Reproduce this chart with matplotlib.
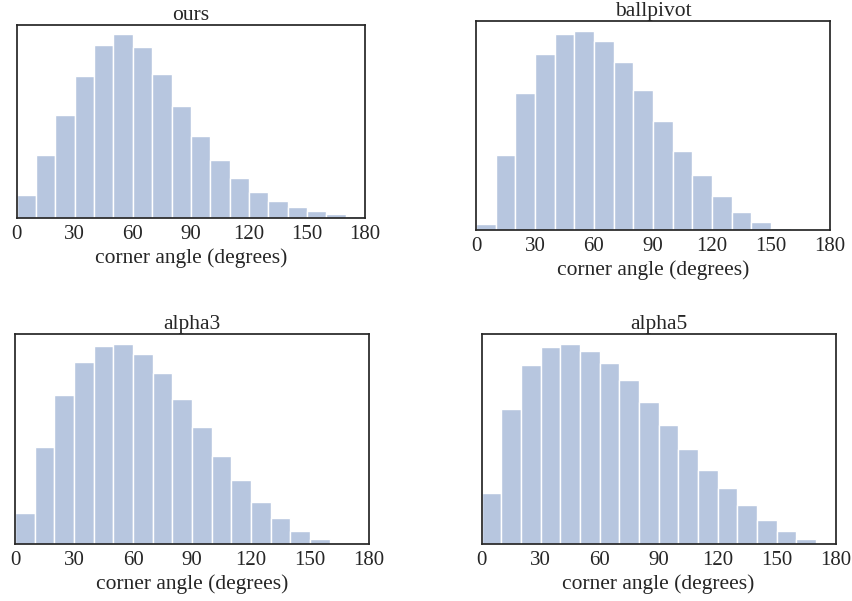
import numpy as np
import matplotlib.pyplot as plt

# bin edges (degrees), 10-degree bins
edges = np.arange(0, 190, 10)

# relative bar heights
ours = [70, 190, 309, 425, 517, 550, 512, 431, 335, 245, 174, 119, 80, 53, 34, 22, 13, 7]
ballpivot = [18, 225, 408, 525, 584, 594, 564, 501, 417, 325, 237, 163, 101, 55, 24, 6, 0, 0]
alpha3 = [95, 290, 445, 544, 591, 597, 567, 511, 435, 350, 265, 191, 127, 78, 41, 17, 4, 1]
alpha5 = [151, 402, 535, 587, 596, 577, 540, 488, 425, 354, 285, 222, 166, 117, 73, 39, 14, 0]

titles = ["ours", "ballpivot", "alpha3", "alpha5"]
series = [ours, ballpivot, alpha3, alpha5]
xticks = [0, 30, 60, 90, 120, 150, 180]

plt.rcParams["font.family"] = ["Liberation Serif", "DejaVu Serif"]
plt.rcParams["font.size"] = 15
plt.rcParams["text.color"] = ".15"
plt.rcParams["xtick.color"] = ".15"

fig = plt.figure(figsize=(8.53, 6.01), dpi=100)
positions = [
    [0.0196, 0.6368, 0.4083, 0.3216],
    [0.558, 0.6173, 0.415, 0.3478],
    [0.0176, 0.0943, 0.415, 0.3494],
    [0.5647, 0.0948, 0.415, 0.349],
]
bar_color = (76 / 255, 114 / 255, 176 / 255, 0.4)

for pos, title, vals in zip(positions, titles, series):
    ax = fig.add_axes(pos)
    ax.hist(edges[:-1], bins=edges, weights=vals, color=bar_color,
            edgecolor="white", linewidth=1)
    ax.set_xlim(0, 180)
    ax.set_xticks(xticks)
    ax.set_yticks([])
    ax.tick_params(axis="x", length=0, pad=5, labelsize=15)
    for s in ax.spines.values():
        s.set_color(".15")
        s.set_linewidth(1.25)
    ax.set_title(title, pad=3.5, fontsize=15.5)
    ax.set_xlabel("corner angle (degrees)", color=".15", fontsize=15.5, labelpad=3)

fig.savefig("out.png", dpi=100)
